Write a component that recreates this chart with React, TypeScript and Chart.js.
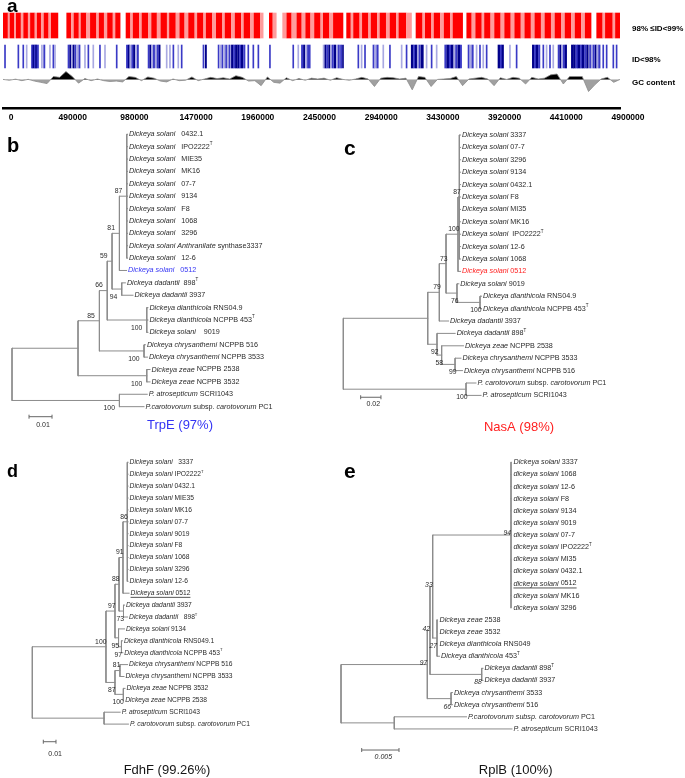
import React, { useEffect, useRef } from 'react';
import { Chart, registerables } from 'chart.js';

Chart.register(...registerables);

const FONT = '"Liberation Sans", Arial, Helvetica, sans-serif';
const TEXT = '#2a2a2a';
const LINE = '#8c8c8c';

// ---------------- Panel a: genome tracks ----------------
const GENOME_TICKS = [0, 490000, 980000, 1470000, 1960000, 2450000, 2940000, 3430000, 3920000, 4410000, 4900000];
const TRACK_NAMES = ['98% \u2264ID<99%', 'ID<98%', 'GC content'];
const TRACK_ROWS = [1, 2, 2.75];

// [start kb, end kb, shade]
const RED_SEGMENTS_KB: number[][] = [
  [0, 22, 1], [26, 40, 1], [40, 52, 0.4], [56, 88, 1], [92, 104, 0.4], [106, 140, 1], [144, 160, 0.4], [164, 196, 1],
  [200, 214, 0.4], [218, 250, 1], [254, 268, 0.4], [272, 300, 1], [304, 322, 0.4], [326, 360, 1], [364, 380, 0.4], [384, 436, 1],
  [506, 540, 1], [544, 560, 0.4], [564, 600, 1], [604, 616, 0.4], [620, 660, 1], [664, 690, 0.4], [694, 740, 1], [744, 760, 0.4],
  [764, 800, 1], [804, 826, 0.4], [830, 870, 1], [874, 890, 0.4], [894, 930, 1],
  [977, 1010, 1], [1014, 1030, 0.4], [1034, 1080, 1], [1084, 1100, 0.4], [1104, 1150, 1], [1154, 1175, 0.4], [1180, 1220, 1],
  [1224, 1250, 0.4], [1254, 1300, 1], [1304, 1318, 0.4], [1322, 1370, 1], [1374, 1400, 0.4], [1404, 1440, 1], [1444, 1470, 0.4],
  [1474, 1520, 1], [1524, 1540, 0.4], [1544, 1590, 1], [1594, 1610, 0.4], [1614, 1660, 1], [1664, 1690, 0.4], [1694, 1740, 1],
  [1744, 1760, 0.4], [1764, 1810, 1], [1814, 1840, 0.4], [1844, 1890, 1], [1894, 1910, 0.4], [1914, 1960, 1], [1964, 1990, 0.4],
  [1994, 2040, 1], [2044, 2066, 0.4],
  [2115, 2140, 1], [2144, 2170, 0.4],
  [2221, 2250, 0.4], [2254, 2290, 1], [2294, 2330, 0.4], [2334, 2370, 1], [2374, 2400, 0.4], [2404, 2440, 1], [2444, 2470, 0.4],
  [2474, 2520, 1], [2524, 2540, 0.4], [2544, 2590, 1], [2594, 2620, 0.4], [2624, 2700, 1],
  [2729, 2760, 1], [2764, 2780, 0.4], [2784, 2830, 1], [2834, 2850, 0.4], [2854, 2900, 1], [2904, 2920, 0.4], [2924, 2970, 1],
  [2974, 2990, 0.4], [2994, 3040, 1], [3044, 3070, 0.4], [3074, 3120, 1], [3124, 3140, 0.4], [3144, 3200, 1], [3204, 3244, 0.4],
  [3280, 3330, 1], [3334, 3350, 0.4], [3354, 3400, 1], [3404, 3420, 0.4], [3424, 3470, 1], [3474, 3500, 0.4], [3504, 3550, 1],
  [3554, 3570, 0.4], [3574, 3650, 1],
  [3683, 3720, 1], [3724, 3750, 0.4], [3754, 3800, 1], [3804, 3820, 0.4], [3824, 3870, 1], [3874, 3900, 0.4], [3904, 3950, 1],
  [3954, 3980, 0.4], [3984, 4030, 1], [4034, 4060, 0.4], [4064, 4110, 1], [4114, 4140, 0.4], [4144, 4190, 1], [4194, 4220, 0.4],
  [4224, 4270, 1], [4274, 4300, 0.4], [4304, 4350, 1], [4354, 4380, 0.4], [4384, 4430, 1], [4434, 4460, 0.4], [4464, 4510, 1],
  [4514, 4540, 0.4], [4544, 4590, 1], [4594, 4620, 0.4], [4624, 4670, 1],
  [4715, 4760, 1], [4764, 4780, 0.4], [4784, 4840, 1], [4844, 4860, 0.4], [4864, 4900, 1],
];

const BLUE_SEGMENTS_KB: number[][] = [
  [12, 20, 0.6], [118, 126, 0.6], [157, 165, 0.6], [184, 192, 0.3], [226, 236, 0.6], [238, 246, 1], [248, 256, 0.6], [258, 268, 1],
  [270, 282, 0.6], [305, 313, 0.3], [323, 333, 0.6], [369, 377, 0.3], [396, 404, 0.6], [409, 417, 0.3],
  [516, 526, 0.6], [530, 540, 1], [544, 552, 0.3], [556, 566, 1], [572, 580, 0.6], [586, 596, 0.3], [602, 612, 0.6],
  [647, 655, 0.3], [674, 682, 0.6], [713, 721, 0.3], [766, 774, 0.6], [806, 814, 0.3], [899, 907, 0.6],
  [980, 990, 0.6], [994, 1004, 1], [1008, 1018, 0.3], [1022, 1032, 0.6], [1036, 1046, 1], [1052, 1060, 0.3], [1066, 1076, 0.6],
  [1152, 1162, 0.6], [1166, 1176, 1], [1180, 1190, 0.3], [1194, 1204, 0.6], [1210, 1220, 0.3], [1224, 1234, 0.6], [1238, 1248, 1],
  [1296, 1304, 0.3], [1322, 1330, 0.3], [1349, 1357, 0.6], [1388, 1396, 0.3], [1415, 1423, 0.6],
  [1588, 1596, 0.6], [1606, 1616, 1],
  [1708, 1716, 0.6], [1722, 1732, 0.3], [1738, 1746, 0.6], [1752, 1762, 0.3], [1768, 1776, 0.6], [1782, 1792, 0.3], [1796, 1804, 0.6],
  [1814, 1826, 1], [1830, 1842, 0.6], [1846, 1860, 1], [1864, 1874, 1], [1878, 1888, 0.6], [1892, 1904, 1], [1910, 1922, 0.6],
  [1944, 1952, 0.6], [1984, 1992, 0.6], [2024, 2032, 0.6], [2116, 2124, 0.6], [2301, 2309, 0.6], [2341, 2349, 0.3],
  [2370, 2380, 0.6], [2386, 2396, 1], [2402, 2412, 0.3], [2418, 2428, 0.6], [2432, 2440, 0.6],
  [2542, 2552, 0.3], [2556, 2566, 1], [2570, 2580, 0.6], [2586, 2596, 1], [2600, 2610, 0.3], [2614, 2624, 0.6], [2630, 2642, 1],
  [2648, 2658, 0.3], [2662, 2672, 0.6], [2680, 2690, 0.6], [2696, 2704, 1],
  [2818, 2826, 0.6], [2844, 2852, 0.3], [2871, 2879, 0.6], [2938, 2948, 0.6], [2952, 2962, 0.3], [2968, 2980, 0.6],
  [3016, 3024, 0.3], [3069, 3077, 0.6],
  [3162, 3170, 0.3], [3201, 3209, 0.6], [3242, 3256, 1], [3260, 3270, 0.6], [3274, 3286, 1], [3290, 3300, 0.3], [3304, 3314, 0.6],
  [3320, 3338, 1], [3360, 3368, 0.3], [3400, 3408, 0.6], [3440, 3448, 0.3],
  [3508, 3520, 0.6], [3524, 3540, 1], [3544, 3556, 0.6], [3560, 3576, 1], [3580, 3590, 0.3], [3594, 3606, 0.6], [3612, 3628, 1],
  [3632, 3642, 0.6],
  [3693, 3703, 0.6], [3707, 3717, 0.3], [3723, 3735, 0.6], [3757, 3765, 0.3], [3784, 3792, 0.6], [3810, 3818, 0.3], [3837, 3845, 0.6],
  [3931, 3945, 1], [3949, 3961, 0.6], [3963, 3975, 1], [4022, 4030, 0.3], [4075, 4083, 0.6],
  [4204, 4216, 1], [4220, 4230, 0.6], [4234, 4246, 1], [4252, 4264, 0.6], [4287, 4295, 0.6], [4313, 4321, 0.3], [4340, 4348, 0.6],
  [4366, 4374, 0.3],
  [4408, 4418, 0.6], [4422, 4432, 1], [4436, 4446, 0.3], [4450, 4460, 0.6], [4464, 4476, 1],
  [4514, 4530, 1], [4532, 4546, 1], [4550, 4564, 0.6], [4566, 4582, 1], [4586, 4598, 0.6], [4600, 4616, 1], [4620, 4632, 0.6],
  [4636, 4648, 1],
  [4658, 4668, 0.6], [4672, 4682, 0.3], [4686, 4696, 0.6], [4702, 4712, 1], [4716, 4726, 0.3], [4730, 4742, 0.6],
  [4763, 4771, 0.6], [4790, 4798, 0.6], [4843, 4851, 0.6], [4869, 4877, 0.6],
];

const GC_WINDOW_KB = 50;
const GC_DEVIATION = [
  0.5, -0.5, 0.8, -1, 0.6, -1.5, -3, -4.5, 4, 3,
  10, 4, -4, 1.5, -1, 1, -1, -2, -1.5, -2.5,
  4, 3, -1, 3.5, 2, -1.5, -2.5, 1, -1, -0.5,
  3.5, -1, 1, 3, 1.5, 2.5, 1, 5, 3, -1.5,
  -1, -7, 3.5, -3, -4, 2.5, -1, 1.5, -0.5, 2,
  1, 2, -0.5, 2.5, 0.5, -0.5, 1, 3, 1, -8,
  2, 3, 2.5, 1, 2, -12, 4, 3, -8, 0.5,
  1, 1.5, 4, -7, 1, 2, 3, 1, -7, 2.5,
  0.5, 3, 2, -5, 3, 1, 2, 6, 7, -5,
  4, 4, 4, -14, -6, 1, 3, -3, 0.5,
];

// ---------------- Trees ----------------
// Labels: *italic*, ^T superscript
const B_LEAVES = [
  '*Dickeya solani*   0432.1', '*Dickeya solani*   IPO2222^T', '*Dickeya solani*   MIE35', '*Dickeya solani*   MK16',
  '*Dickeya solani*   07-7', '*Dickeya solani*   9134', '*Dickeya solani*   F8', '*Dickeya solani*   1068',
  '*Dickeya solani*   3296', '*Dickeya solani Anthranilate* synthase3337', '*Dickeya solani*   12-6', '*Dickeya solani*   0512',
  '*Dickeya dadantii*  898^T', '*Dickeya dadantii* 3937', '*Dickeya dianthicola* RNS04.9', '*Dickeya dianthicola* NCPPB 453^T',
  '*Dickeya solani*    9019', '*Dickeya chrysanthemi* NCPPB 516', '*Dickeya chrysanthemi* NCPPB 3533',
  '*Dickeya zeae* NCPPB 2538', '*Dickeya zeae* NCPPB 3532', '*P. atrosepticum* SCRI1043',
  '*P.carotovorum* subsp. *carotovorum* PC1',
];
const B_LEAF_PARENT = ['n87', 'n87', 'n87', 'n87', 'n87', 'n87', 'n87', 'n87', 'n87', 'n87', 'n87', 'n81',
  'dad', 'dad', 'dia', 'dia', 'dia', 'chr', 'chr', 'zea', 'zea', 'out', 'out'];
const B_LEAF_TIP = [0.0502, 0.0502, 0.0502, 0.0502, 0.0502, 0.0502, 0.0502, 0.0502, 0.0502, 0.0502, 0.0502, 0.0498,
  0.0493, 0.0526, 0.0591, 0.0591, 0.0591, 0.0580, 0.0589, 0.0600, 0.0600, 0.0588, 0.0574];
// [id, parent, depth, support, label position]
const B_NODES: [string, string, number, string, string][] = [
  ['root', '', 0, '', ''], ['in', 'root', 0.0287, '', ''], ['n85', 'in', 0.0380, '85', 'a'], ['n66', 'n85', 0.0414, '66', 'a'],
  ['n59', 'n66', 0.0435, '59', 'a'], ['n81', 'n59', 0.0467, '81', 'a'], ['n87', 'n81', 0.0499, '87', 'a'],
  ['dad', 'n59', 0.0477, '94', 'b'], ['dia', 'n66', 0.0586, '100', 'b'], ['chr', 'n85', 0.0574, '100', 'b'],
  ['zea', 'in', 0.0586, '100', 'b'], ['out', 'root', 0.0467, '100', 'b'],
];

const C_LEAVES = [
  '*Dickeya solani* 3337', '*Dickeya solani* 07-7', '*Dickeya solani* 3296', '*Dickeya solani* 9134', '*Dickeya solani* 0432.1',
  '*Dickeya solani* F8', '*Dickeya solani* MI35', '*Dickeya solani* MK16', '*Dickeya solani*  IPO2222^T', '*Dickeya solani* 12-6',
  '*Dickeya solani* 1068', '*Dickeya solani* 0512', '*Dickeya solani* 9019', '*Dickeya dianthicola* RNS04.9',
  '*Dickeya dianthicola* NCPPB 453^T', '*Dickeya dadantii* 3937', '*Dickeya dadantii* 898^T', '*Dickeya zeae* NCPPB 2538',
  '*Dickeya chrysanthemi* NCPPB 3533', '*Dickeya chrysanthemi* NCPPB 516', '*P. carotovorum* subsp. *carotovorum* PC1',
  '*P. atrosepticum* SCRI1043',
];
const C_LEAF_PARENT = ['n87', 'n87', 'n87', 'n87', 'n87', 'n87', 'n87', 'n87', 'n87', 'n87', 'n87', 'n100',
  'n76', 'dia', 'dia', 'n79', 'n92', 'n58', 'n99', 'n99', 'out', 'out'];
const C_LEAF_TIP = [0.1155, 0.1155, 0.1155, 0.1155, 0.1155, 0.1155, 0.1155, 0.1155, 0.1155, 0.1155, 0.1155, 0.1155,
  0.1138, 0.1362, 0.1362, 0.1037, 0.1102, 0.1184, 0.1159, 0.1174, 0.1307, 0.1357];
const C_NODES: [string, string, number, string, string][] = [
  ['root', '', 0, '', ''], ['in', 'root', 0.0832, '', ''], ['n79', 'in', 0.0946, '79', 'a'], ['n73', 'n79', 0.1012, '73', 'a'],
  ['n100', 'n73', 0.1130, '100', 'a'], ['n87', 'n100', 0.1143, '87', 'a'], ['n76', 'n73', 0.1120, '76', 'b'],
  ['dia', 'n76', 0.1347, '100', 'b'], ['n92', 'in', 0.0923, '92', 'b'], ['n58', 'n92', 0.0969, '58', 'b'],
  ['n99', 'n58', 0.1101, '99', 'b'], ['out', 'root', 0.1209, '100', 'b'],
];

const D_LEAVES = [
  '*Dickeya solani*   3337', '*Dickeya solani* IPO2222^T', '*Dickeya solani* 0432.1', '*Dickeya solani* MIE35',
  '*Dickeya solani* MK16', '*Dickeya solani* 07-7', '*Dickeya solani* 9019', '*Dickeya solani* F8', '*Dickeya solani* 1068',
  '*Dickeya solani* 3296', '*Dickeya solani* 12-6', '*Dickeya solani* 0512', '*Dickeya dadantii* 3937',
  '*Dickeya dadantii*   898^T', '*Dickeya solani* 9134', '*Dickeya dianthicola* RNS049.1', '*Dickeya dianthicola* NCPPB 453^T',
  '*Dickeya chrysanthemi* NCPPB 516', '*Dickeya chrysanthemi* NCPPB 3533', '*Dickeya zeae* NCPPB 3532',
  '*Dickeya zeae* NCPPB 2538', '*P. atrosepticum* SCRI1043', '*P. carotovorum* subsp. *carotovorum* PC1',
];
const D_LEAF_PARENT = ['n86', 'n86', 'n86', 'n86', 'n86', 'n86', 'n86', 'n86', 'n86', 'n86', 'n86', 'n91',
  'n73', 'n73', 'n95', 'dia', 'dia', 'n81', 'n81', 'zea', 'zea', 'out', 'out'];
const D_LEAF_TIP = [0.0754, 0.0754, 0.0754, 0.0754, 0.0754, 0.0754, 0.0754, 0.0754, 0.0754, 0.0754, 0.0754, 0.0762,
  0.0726, 0.0750, 0.0726, 0.0710, 0.0713, 0.0750, 0.0722, 0.0730, 0.0720, 0.0692, 0.0757];
const D_NODES: [string, string, number, string, string][] = [
  ['root', '', 0, '', ''], ['in', 'root', 0.0580, '100', 'a'], ['n97', 'in', 0.0651, '97', 'a'], ['n88', 'n97', 0.0683, '88', 'a'],
  ['n91', 'n88', 0.0714, '91', 'a'], ['n86', 'n91', 0.0748, '86', 'a'], ['n73', 'n88', 0.0718, '73', 'b'],
  ['n95', 'n97', 0.0679, '95', 'b'], ['dia', 'n95', 0.0702, '97', 'b'], ['n87', 'in', 0.0651, '87', 'b'],
  ['n81', 'n87', 0.0690, '81', 'a'], ['zea', 'n87', 0.0717, '100', 'b'], ['out', 'root', 0.0565, '', ''],
];

const E_LEAVES = [
  '*Dickeya solani* 3337', '*dickeya solani* 1068', '*dickeya solani* 12-6', '*dickeya solani* F8', '*dickeya solani* 9134',
  '*dickeya solani* 9019', '*dickeya solani* 07-7', '*dickeya solani* IPO2222^T', '*dickeya solani* MI35',
  '*dickeya solani* 0432.1', '*dickeya solani* 0512', '*dickeya solani* MK16', '*dickeya solani* 3296', '*Dickeya zeae* 2538',
  '*Dickeya zeae* 3532', '*Dickeya dianthicola* RNS049', '*Dickeya dianthicola* 453^T', '*Dickeya dadantii* 898^T',
  '*Dickeya dadantii* 3937', '*Dickeya chrysanthemi* 3533', '*Dickeya chrysanthemi* 516',
  '*P.carotovorum subsp. carotovorum* PC1', '*P. atrosepticum* SCRI1043',
];
const E_LEAF_PARENT = ['n94', 'n94', 'n94', 'n94', 'n94', 'n94', 'n94', 'n94', 'n94', 'n94', 'n94', 'n94', 'n94',
  'n27', 'n27', 'n27', 'n27', 'n88', 'n88', 'n66', 'n66', 'out', 'out'];
const E_LEAF_TIP = [0.02292, 0.02292, 0.02292, 0.02292, 0.02292, 0.02292, 0.02292, 0.02292, 0.02292, 0.02292, 0.02292,
  0.02292, 0.02292, 0.01300, 0.01300, 0.01300, 0.01320, 0.01903, 0.01903, 0.01494, 0.01494, 0.01682, 0.02292];
const E_NODES: [string, string, number, string, string][] = [
  ['root', '', 0, '', ''], ['in', 'root', 0.01157, '97', 'm'], ['n42', 'in', 0.01193, '42', 'm'], ['n33', 'n42', 0.01229, '33', 'm'],
  ['n94', 'n33', 0.02279, '94', 'm'], ['n27', 'n33', 0.01287, '27', 'b'], ['n88', 'n42', 0.01886, '88', 'b'],
  ['n66', 'in', 0.01475, '66', 'b'], ['out', 'root', 0.00714, '', ''],
];

type TreeSpec = {
  leaves: string[]; leafParent: string[]; leafTip: number[]; nodes: [string, string, number, string, string][];
  highlight?: { index: number; color: string }; underline?: number;
  scaleBar: { x: number; row: number; len: number; label: string; italic: boolean; labelDx: number; labelDy: number };
  title: { text: string; color: string; x: number; y: number };
  letter: { text: string; x: number; y: number; size: number };
  box: { left: number; top: number; width: number; height: number };
  ppu: number; rootPx: number; y0: number; dy: number;
  leafFont: number; supportItalic: boolean; supportDx: number;
};

const TREES: TreeSpec[] = [
  {
    leaves: B_LEAVES, leafParent: B_LEAF_PARENT, leafTip: B_LEAF_TIP, nodes: B_NODES,
    highlight: { index: 11, color: '#3434f4' },
    scaleBar: { x: 0.0074, row: 22.81, len: 0.01, label: '0.01', italic: false, labelDx: 2.5, labelDy: 8.5 },
    title: { text: 'TrpE (97%)', color: '#3434f4', x: 180, y: 300 },
    letter: { text: 'b', x: 7, y: 27, size: 20 },
    box: { left: 0, top: 125, width: 340, height: 315 }, ppu: 2300, rootPx: 12, y0: 134.3, dy: 12.38,
    leafFont: 7.2, supportItalic: false, supportDx: -4.5,
  },
  {
    leaves: C_LEAVES, leafParent: C_LEAF_PARENT, leafTip: C_LEAF_TIP, nodes: C_NODES,
    highlight: { index: 11, color: '#ff2020' },
    scaleBar: { x: 0.0171, row: 21.15, len: 0.02, label: '0.02', italic: false, labelDx: 2.5, labelDy: 7 },
    title: { text: 'NasA (98%)', color: '#ff2020', x: 179, y: 302 },
    letter: { text: 'c', x: 4, y: 30, size: 21 },
    box: { left: 340, top: 125, width: 345, height: 315 }, ppu: 1015, rootPx: 3.3, y0: 135, dy: 12.4,
    leafFont: 7.2, supportItalic: false, supportDx: 1.5,
  },
  {
    leaves: D_LEAVES, leafParent: D_LEAF_PARENT, leafTip: D_LEAF_TIP, nodes: D_NODES,
    underline: 11,
    scaleBar: { x: 0.00866, row: 23.48, len: 0.01, label: '0.01', italic: false, labelDx: 5.5, labelDy: 12 },
    title: { text: 'FdhF (99.26%)', color: '#151515', x: 167, y: 325 },
    letter: { text: 'd', x: 7, y: 32, size: 18 },
    box: { left: 0, top: 445, width: 340, height: 333 }, ppu: 1270, rootPx: 32.3, y0: 462.3, dy: 11.9,
    leafFont: 6.7, supportItalic: false, supportDx: 0.5,
  },
  {
    leaves: E_LEAVES, leafParent: E_LEAF_PARENT, leafTip: E_LEAF_TIP, nodes: E_NODES,
    underline: 10,
    scaleBar: { x: 0.002775, row: 23.74, len: 0.005, label: '0.005', italic: true, labelDx: 3, labelDy: 7 },
    title: { text: 'RplB (100%)', color: '#151515', x: 175.7, y: 325 },
    letter: { text: 'e', x: 4, y: 33, size: 21 },
    box: { left: 340, top: 445, width: 345, height: 333 }, ppu: 7460, rootPx: 1, y0: 462.3, dy: 12.12,
    leafFont: 7.2, supportItalic: true, supportDx: 0,
  },
];

type Run = { text: string; italic: boolean; sup: boolean };
function parseLabel(s: string): Run[] {
  const runs: Run[] = [];
  let italic = false;
  let buf = '';
  const flush = () => { if (buf) { runs.push({ text: buf, italic, sup: false }); buf = ''; } };
  for (let i = 0; i < s.length; i++) {
    const c = s[i];
    if (c === '*') { flush(); italic = !italic; }
    else if (c === '^') { flush(); runs.push({ text: s[i + 1], italic: false, sup: true }); i++; }
    else buf += c;
  }
  flush();
  return runs;
}

function layoutTree(spec: TreeSpec) {
  const depth: Record<string, number> = {};
  spec.nodes.forEach(([id, , d]) => { depth[id] = d; });
  const ys: Record<string, number> = {};
  const range: Record<string, [number, number]> = {};
  const yOf = (id: string): number => {
    if (ys[id] !== undefined) return ys[id];
    const cy: number[] = [];
    spec.leafParent.forEach((p, i) => { if (p === id) cy.push(i); });
    spec.nodes.forEach(([cid, p]) => { if (p === id) cy.push(yOf(cid)); });
    const lo = Math.min(...cy), hi = Math.max(...cy);
    range[id] = [lo, hi];
    ys[id] = (lo + hi) / 2;
    return ys[id];
  };
  spec.nodes.forEach(([id]) => yOf(id));
  const pts: { x: number; y: number | null }[] = [];
  const seg = (x1: number, y1: number, x2: number, y2: number) => {
    pts.push({ x: x1, y: y1 }, { x: x2, y: y2 }, { x: x2, y: null });
  };
  spec.leafParent.forEach((p, i) => seg(depth[p], i, spec.leafTip[i], i));
  spec.nodes.forEach(([id, p]) => {
    if (p) seg(depth[p], ys[id], depth[id], ys[id]);
    seg(depth[id], range[id][0], depth[id], range[id][1]);
  });
  return { depth, ys, pts };
}

function TreePanel({ spec }: { spec: TreeSpec }) {
  const ref = useRef<HTMLCanvasElement>(null);
  useEffect(() => {
    const canvas = ref.current!;
    const { depth, ys, pts } = layoutTree(spec);
    const { box, ppu, rootPx, dy } = spec;
    const y0rel = spec.y0 - box.top;
    const textPlugin = {
      id: 'treeText',
      afterDatasetsDraw(chart: any) {
        const ctx: CanvasRenderingContext2D = chart.ctx;
        const xs = chart.scales.x, yS = chart.scales.y;
        ctx.save();
        const fs = spec.leafFont;
        spec.leaves.forEach((lab, i) => {
          let x = xs.getPixelForValue(spec.leafTip[i]) + 1.5;
          const x0 = x;
          const y = yS.getPixelForValue(i);
          const color = spec.highlight && spec.highlight.index === i ? spec.highlight.color : TEXT;
          ctx.fillStyle = color;
          ctx.textAlign = 'left';
          ctx.textBaseline = 'middle';
          for (const r of parseLabel(lab)) {
            const size = r.sup ? fs * 0.62 : fs;
            ctx.font = `${r.italic ? 'italic ' : ''}${size}px ${FONT}`;
            ctx.fillText(r.text, x, r.sup ? y - fs * 0.38 : y);
            x += ctx.measureText(r.text).width;
          }
          if (spec.underline === i) {
            ctx.strokeStyle = color;
            ctx.lineWidth = 0.8;
            ctx.beginPath();
            ctx.moveTo(x0, y + fs * 0.62);
            ctx.lineTo(x, y + fs * 0.62);
            ctx.stroke();
          }
        });
        ctx.fillStyle = TEXT;
        ctx.textAlign = 'right';
        ctx.textBaseline = 'middle';
        ctx.font = `${spec.supportItalic ? 'italic ' : ''}6.8px ${FONT}`;
        spec.nodes.forEach(([id, , , sup, pos]) => {
          if (!sup) return;
          const px = xs.getPixelForValue(depth[id]) + spec.supportDx;
          const py = yS.getPixelForValue(ys[id]) + (pos === 'a' ? -5 : pos === 'b' ? 8 : -1.5);
          ctx.fillText(sup, px, py);
        });
        const sb = spec.scaleBar;
        const bx1 = xs.getPixelForValue(sb.x), bx2 = xs.getPixelForValue(sb.x + sb.len);
        const by = yS.getPixelForValue(sb.row);
        ctx.strokeStyle = '#666';
        ctx.lineWidth = 1;
        ctx.beginPath();
        ctx.moveTo(bx1, by); ctx.lineTo(bx2, by);
        ctx.moveTo(bx1, by - 2); ctx.lineTo(bx1, by + 2);
        ctx.moveTo(bx2, by - 2); ctx.lineTo(bx2, by + 2);
        ctx.stroke();
        ctx.textAlign = 'center';
        ctx.font = `${sb.italic ? 'italic ' : ''}7px ${FONT}`;
        ctx.fillText(sb.label, (bx1 + bx2) / 2 + sb.labelDx, by + sb.labelDy);
        ctx.font = `13px ${FONT}`;
        ctx.fillStyle = spec.title.color;
        ctx.fillText(spec.title.text, spec.title.x, spec.title.y);
        ctx.textAlign = 'left';
        ctx.textBaseline = 'alphabetic';
        ctx.fillStyle = '#000';
        ctx.font = `bold ${spec.letter.size}px ${FONT}`;
        ctx.fillText(spec.letter.text, spec.letter.x, spec.letter.y);
        ctx.restore();
      },
    };
    const chart = new Chart(canvas, {
      type: 'line',
      data: {
        datasets: [{
          data: pts as any, borderColor: LINE, borderWidth: 1, pointRadius: 0, spanGaps: false,
          fill: false, tension: 0, borderCapStyle: 'square',
        }],
      },
      options: {
        animation: false, responsive: false, maintainAspectRatio: false,
        layout: { padding: 0 },
        plugins: { legend: { display: false }, tooltip: { enabled: false } },
        scales: {
          x: { type: 'linear', display: false, min: -rootPx / ppu, max: (box.width - rootPx) / ppu },
          y: { type: 'linear', display: false, reverse: true, min: -y0rel / dy, max: (box.height - y0rel) / dy },
        },
      },
      plugins: [textPlugin],
    });
    return () => chart.destroy();
  }, [spec]);
  const { box } = spec;
  return (
    <canvas ref={ref} width={box.width} height={box.height}
      style={{ position: 'absolute', left: box.left, top: box.top, width: box.width, height: box.height }} />
  );
}

function GenomePanel() {
  const ref = useRef<HTMLCanvasElement>(null);
  useEffect(() => {
    const canvas = ref.current!;
    const redShade = (s: number) => (s >= 1 ? '#ff0000' : '#ff9c9c');
    const blueShade = (s: number) => (s >= 1 ? '#00008a' : s >= 0.6 ? '#3a3ac6' : '#a9a9e2');
    const letterPlugin = {
      id: 'letterA',
      afterDraw(chart: any) {
        const ctx: CanvasRenderingContext2D = chart.ctx;
        ctx.save();
        ctx.fillStyle = '#000';
        ctx.font = `bold 19px ${FONT}`;
        ctx.textBaseline = 'alphabetic';
        ctx.fillText('a', 7, 12);
        ctx.restore();
      },
    };
    const chart = new Chart(canvas, {
      type: 'bar',
      data: {
        datasets: [
          {
            type: 'bar', label: TRACK_NAMES[0],
            data: RED_SEGMENTS_KB.map(([s, e]) => ({ x: [s * 1000, e * 1000], y: TRACK_ROWS[0] })) as any,
            backgroundColor: RED_SEGMENTS_KB.map((r) => redShade(r[2])),
            barThickness: 25, borderWidth: 0, grouped: false, xAxisID: 'x', yAxisID: 'y', order: 2,
          },
          {
            type: 'bar', label: TRACK_NAMES[1],
            data: BLUE_SEGMENTS_KB.map(([s, e]) => ({ x: [s * 1000, e * 1000], y: TRACK_ROWS[1] })) as any,
            backgroundColor: BLUE_SEGMENTS_KB.map((r) => blueShade(r[2])),
            barThickness: 23, borderWidth: 0, grouped: false, xAxisID: 'x', yAxisID: 'y', order: 2,
          },
          {
            type: 'line', label: TRACK_NAMES[2], indexAxis: 'x',
            data: GC_DEVIATION.map((v, i) => ({ x: i * GC_WINDOW_KB * 1000, y: v })) as any,
            xAxisID: 'x', yAxisID: 'yGC', borderColor: '#8a8a8a', borderWidth: 0.8, pointRadius: 0, tension: 0,
            fill: { target: { value: 0 }, above: '#000000', below: '#a0a0a0' }, order: 1,
          } as any,
        ],
      },
      options: {
        indexAxis: 'y',
        animation: false, responsive: false, maintainAspectRatio: false,
        layout: { padding: { left: 3, top: 0, right: 0, bottom: 0 } },
        plugins: { legend: { display: false }, tooltip: { enabled: false } },
        scales: {
          x: {
            type: 'linear', position: 'bottom', min: 0, max: 4900000,
            grid: { display: false, drawTicks: false },
            border: { display: true, color: '#000', width: 2.5 },
            afterBuildTicks: (s: any) => { s.ticks = GENOME_TICKS.map((v) => ({ value: v })); },
            afterFit: (s: any) => { s.height = 17; s.paddingLeft = 0; s.paddingRight = 0; },
            ticks: {
              autoSkip: false, maxRotation: 0, labelOffset: 8, padding: 5, color: '#000',
              font: { family: FONT, size: 8.5, weight: 'bold' },
              callback: (v: any) => String(v),
            },
          },
          y: {
            type: 'linear', axis: 'y', position: 'right', reverse: true, offset: false, min: 0.177, max: 3.661,
            grid: { display: false, drawTicks: true, tickLength: 12 }, border: { display: false },
            afterBuildTicks: (s: any) => { s.ticks = TRACK_ROWS.map((v) => ({ value: v })); },
            afterFit: (s: any) => { s.width = 65; s.paddingTop = 0; s.paddingBottom = 0; },
            ticks: {
              padding: 0, labelOffset: 3, color: '#000', autoSkip: false,
              font: { family: FONT, size: 8, weight: 'bold' },
              callback: (_v: any, i: number) => TRACK_NAMES[i],
            },
          },
          yGC: { type: 'linear', axis: 'y', display: false, min: -23, max: 85 },
        },
      } as any,
      plugins: [letterPlugin],
    });
    return () => chart.destroy();
  }, []);
  return <canvas ref={ref} width={685} height={125}
    style={{ position: 'absolute', left: 0, top: 0, width: 685, height: 125 }} />;
}

export default function App() {
  return (
    <div style={{ position: 'absolute', left: 0, top: 0, width: 685, height: 778, background: '#fff', overflow: 'hidden' }}>
      <GenomePanel />
      {TREES.map((t, i) => <TreePanel key={i} spec={t} />)}
    </div>
  );
}
